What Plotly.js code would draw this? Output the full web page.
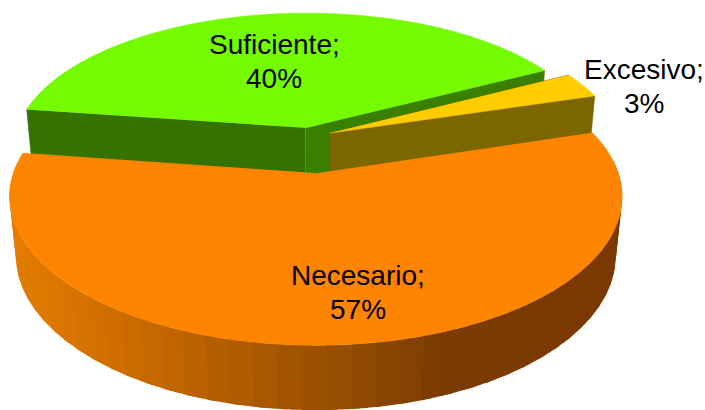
<!DOCTYPE html>
<html>
<head>
<meta charset="utf-8">
<script src="https://cdn.plot.ly/plotly-3.0.1.min.js"></script>
<style>html,body{margin:0;padding:0;background:#fff}#chart{width:705px;height:410px}</style>
</head>
<body>
<div id="chart"></div>
<script>
// Survey shares, going counter-clockwise from the start angle
const categories = ['Excesivo', 'Suficiente', 'Necesario'];
const shares = [3, 40, 57];

const topColors = ['#ffcc00', '#75fb00', '#ff8400'];
const leftFaceColors = ['#7c6600', '#347300', '#ff8400'];
const rightFaceColors = ['#7c6600', '#398000', '#ff8400'];

// Rim shading of the large slice, by horizontal pixel position
const rimStops = [[10, [228, 124, 0]], [100, [210, 112, 0]], [200, [185, 96, 0]], [340, [150, 78, 0]], [445, [122, 58, 0]], [705, [122, 56, 0]]];

// World offset of every slice from the pie axis (exploded look)
const offsets = [[0.055, 0.125], [-0.029, 0.165], [0.006, -0.167]];
const labelPlace = [[644, 69, 103], [274, 44, 78], [358, 275, 309]];

// Back slices are painted first so the front ones cover them
const paintOrder = [1, 0, 2];

// Camera used to flatten the 3-D pie onto the page
const view = {cx: 314, cy: 150, radius: 295, tilt: 138, persp: 0.15, depthPersp: 0.02, height: 58.7};
const startAngle = 17;

function project(X, Y, Z) {
  const s = 1 / (1 + view.persp * Y + view.depthPersp * Z);
  return [view.cx + view.radius * X * s, view.cy + (view.height * Z - view.tilt * Y) * s];
}

function polygon(points, color, width) {
  return {
    type: 'scatter', mode: 'lines', fill: 'toself', fillcolor: color,
    x: points.map(p => p[0]), y: points.map(p => p[1]),
    line: {color: color, width: width === undefined ? 0.6 : width, simplify: false},
    hoverinfo: 'skip', showlegend: false
  };
}

function rimColor(px) {
  for (let i = 1; i < rimStops.length; i++) {
    if (px <= rimStops[i][0]) {
      const [x0, c0] = rimStops[i - 1], [x1, c1] = rimStops[i];
      const t = Math.max(0, (px - x0) / (x1 - x0));
      return 'rgb(' + c0.map((v, k) => Math.round(v + (c1[k] - v) * t)).join(',') + ')';
    }
  }
  return 'rgb(122,56,0)';
}

const total = shares.reduce((a, b) => a + b, 0);
const spans = [];
shares.reduce((start, value, i) => {
  const end = start + value / total * 360;
  spans[i] = [start, end];
  return end;
}, startAngle);

const traces = [];
paintOrder.forEach(i => {
  const [from, to] = spans[i];
  const [ox, oy] = offsets[i];
  const rim = (deg, z) => {
    const r = deg * Math.PI / 180;
    return project(Math.cos(r) + ox, Math.sin(r) + oy, z);
  };
  const apexTop = project(ox, oy, 0), apexLow = project(ox, oy, 1);

  // Radial cut faces seen from the front
  traces.push(polygon([apexTop, rim(from, 0), rim(from, 1), apexLow], rightFaceColors[i]));
  traces.push(polygon([apexTop, rim(to, 0), rim(to, 1), apexLow], leftFaceColors[i]));

  // Outer rim: overlapping narrow facets give the stepped shading without seams
  const stepDeg = 4;
  for (let d = from; d < to; d += stepDeg) {
    const e = Math.min(d + stepDeg + 1.5, to);
    const mid = d + stepDeg / 2;
    if (Math.sin(mid * Math.PI / 180) >= 0.05) continue;
    const arc = [];
    for (let q = d; q < e; q += 0.5) arc.push(rim(q, 0));
    arc.push(rim(e, 0));
    for (let q = e; q > d; q -= 0.5) arc.push(rim(q, 1));
    arc.push(rim(d, 1));
    traces.push(polygon(arc, rimColor(rim(mid, 0)[0]), 0));
  }

  // Top surface
  const top = [apexTop];
  for (let d = from; d < to; d += 1) top.push(rim(d, 0));
  top.push(rim(to, 0));
  traces.push(polygon(top, topColors[i]));
});

const annotations = [];
categories.forEach((name, i) => {
  const [lx, y1, y2] = labelPlace[i];
  [[name + ';', y1], [shares[i] + '%', y2]].forEach(([text, ly]) => annotations.push({
    x: lx, y: ly, xref: 'x', yref: 'y', text: text, showarrow: false,
    xanchor: 'center', yanchor: 'middle',
    font: {family: 'Liberation Sans, Arial, sans-serif', size: 28, color: '#000'}
  }));
});

const hidden = {visible: false, fixedrange: true};
Plotly.newPlot('chart', traces, {
  width: 705, height: 410,
  margin: {l: 0, r: 0, t: 0, b: 0},
  paper_bgcolor: '#fff', plot_bgcolor: '#fff',
  xaxis: Object.assign({range: [0, 705]}, hidden),
  yaxis: Object.assign({range: [410, 0]}, hidden),
  annotations: annotations,
  showlegend: false
}, {displayModeBar: false, staticPlot: true});
</script>
</body>
</html>
